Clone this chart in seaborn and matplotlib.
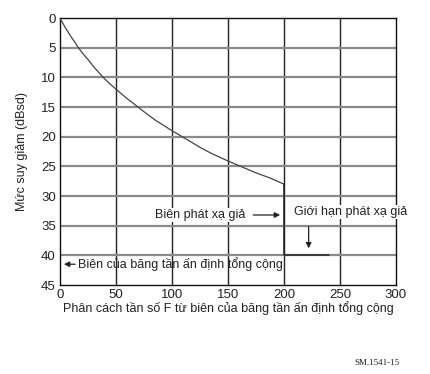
import matplotlib
matplotlib.use("Agg")
import matplotlib.pyplot as plt
import seaborn as sns
import pandas as pd

# Data
freq_sep = [0, 2, 5, 8, 10, 13, 16, 20, 25, 30, 38, 44, 50, 60, 69, 75, 85, 100, 109,
            118, 125, 135, 143, 150, 160, 175, 188, 200]
attenuation = [0, 0.7, 1.7, 2.6, 3.2, 4.0, 4.9, 5.9, 7.0, 8.2, 9.9, 11.0, 12.0, 13.6, 14.9,
               15.8, 17.2, 19.0, 20.0, 21.0, 21.8, 22.8, 23.5, 24.1, 24.9, 26.1, 27.0, 28.0]
limit_x = [200, 200, 240]
limit_y = [28, 40, 40]
x_ticks = [0, 50, 100, 150, 200, 250, 300]
y_ticks = [0, 5, 10, 15, 20, 25, 30, 35, 40, 45]

sns.set_theme(style="white")
plt.rcParams['font.family'] = ['Liberation Sans', 'DejaVu Sans']

fig = plt.figure(figsize=(4.31, 3.74), dpi=100)
ax = fig.add_axes([60/431, 1-285/374, 336/431, 267/374])

# grid lines
for xv in x_ticks[1:-1]:
    ax.axvline(xv, color="#222222", lw=1.0, zorder=1)
for yv in y_ticks[1:-1]:
    ax.axhline(yv, color="#8a8a8a", lw=1.6, zorder=1)

df_curve = pd.DataFrame({"F": freq_sep, "A": attenuation})
df_lim = pd.DataFrame({"F": limit_x, "A": limit_y})
sns.lineplot(data=df_curve, x="F", y="A", ax=ax, color="#444444", lw=0.9,
             sort=False, estimator=None, zorder=3)
sns.lineplot(data=df_lim, x="F", y="A", ax=ax, color="#222222", lw=1.1,
             sort=False, estimator=None, zorder=3)

ax.set_xlim(0, 300)
ax.set_ylim(45, 0)
ax.set_xticks(x_ticks)
ax.set_yticks(y_ticks)
ax.tick_params(length=0, labelsize=9.5, colors="#222222", pad=3)
for s in ax.spines.values():
    s.set_color("#111111")
    s.set_linewidth(1.0)

ax.set_xlabel("Phân cách tần số F từ biên của băng tần ấn định tổng cộng",
              fontsize=9, color="#222222", labelpad=0)
ax.set_ylabel("Mức suy giảm (dBsd)", fontsize=9, color="#222222", labelpad=9)

# annotations
ax.text(85, 33.2, "Biên phát xạ giả", fontsize=9, color="#222222", va="center", ha="left",
        bbox=dict(facecolor="white", edgecolor="none", pad=1))
ax.annotate("", xy=(199, 33.2), xytext=(170, 33.2),
            arrowprops=dict(arrowstyle="-|>", color="#222222", lw=0.9, mutation_scale=8))
ax.text(209, 32.7, "Giới hạn phát xạ giả", fontsize=9, color="#222222", va="center", ha="left",
        bbox=dict(facecolor="white", edgecolor="none", pad=1))
ax.annotate("", xy=(222, 39.3), xytext=(222, 34.7),
            arrowprops=dict(arrowstyle="-|>", color="#222222", lw=0.9, mutation_scale=8))
ax.text(16, 41.5, "Biên của băng tần ấn định tổng cộng", fontsize=9, color="#222222",
        va="center", ha="left")
ax.annotate("", xy=(1, 41.5), xytext=(16, 41.5),
            arrowprops=dict(arrowstyle="-|>", color="#222222", lw=0.9, mutation_scale=8))

fig.text(400/431, 1-363/374, "SM.1541-15", fontsize=6.5, family="Liberation Serif",
         color="#222222", ha="right", va="center")

fig.savefig("out.png", dpi=100, facecolor="white")
